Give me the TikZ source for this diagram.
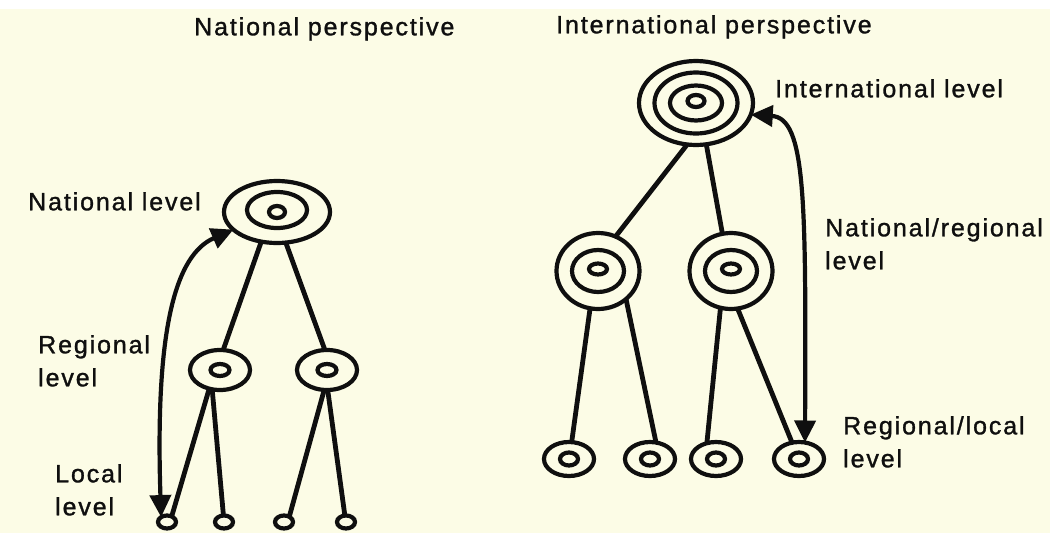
\documentclass[tikz,border=0pt]{standalone}
\usepackage{fontspec}
\setmainfont[LetterSpace=7.5,FakeBold=1.2]{Liberation Sans}
\usetikzlibrary{arrows.meta,shapes.geometric}
\definecolor{paper}{RGB}{252,252,230}
\definecolor{ink}{RGB}{15,15,15}
\begin{document}
\begin{tikzpicture}[x=1pt,y=-1pt,
  ring/.style={draw=ink,line width=4.2pt,ellipse,inner sep=0pt,outer sep=0pt},
  ringline/.style={draw=ink,line width=4.2pt},
  link/.style={draw=ink,line width=4.8pt},
  lbl/.style={font=\fontsize{25}{33}\selectfont,text=ink,inner sep=0pt,align=left,anchor=north west},
  dbl/.style={draw=ink,line width=4.2pt,{Triangle[length=22pt,width=21pt]}-{Triangle[length=22pt,width=21pt]}}
]
\useasboundingbox (0,0) rectangle (1050,533);
\fill[paper] (0,0) rectangle (1050,533);
\fill[white] (0,0) rectangle (1050,9);

% titles
\node[lbl] (t1) at (194,17) {National perspective};
\node[lbl] (t2) at (556,15) {International perspective};

% ---- left tree
\node[ring,minimum width=106,minimum height=62] (nat) at (277,212) {};
\draw[ringline] ([yshift=2pt]nat.center) ellipse [x radius=30,y radius=18];
\draw[ringline] (nat.center) ellipse [x radius=8,y radius=6];

\node[ring,minimum width=60,minimum height=40] (regL) at (220,370) {};
\draw[ringline] (regL.center) ellipse [x radius=9.5,y radius=6];
\node[ring,minimum width=60,minimum height=40] (regR) at (327,370) {};
\draw[ringline] (regR.center) ellipse [x radius=9.5,y radius=6];

\node[ring,minimum width=18,minimum height=13] (loc1) at (167,522) {};
\node[ring,minimum width=18,minimum height=13] (loc2) at (224,522) {};
\node[ring,minimum width=18,minimum height=13] (loc3) at (284,522) {};
\node[ring,minimum width=18,minimum height=13] (loc4) at (346,522) {};

\draw[link] (nat.242) -- (regL.81);
\draw[link] (nat.286) -- (regR.96);
\draw[link] (regL.240) -- (loc1.50);
\draw[link] (regL.248) -- (loc2.95);
\draw[link] (regR.262) -- (loc3.45);
\draw[link] (regR.272) -- (loc4.100);

\draw[dbl] (loc1.140) .. controls (155,330) and (175,255) .. (nat.202);

\node[lbl] (l1) at (28,192) {National level};
\node[lbl] (l2) at (38,335) {Regional\\level};
\node[lbl] (l3) at (55,464) {Local\\level};

% ---- right tree
\node[ring,minimum width=114,minimum height=84] (int) at (696,103) {};
\draw[ringline] (int.center) ellipse [x radius=41.5,y radius=30.5];
\draw[ringline] (int.center) ellipse [x radius=26,y radius=17.5];
\draw[ringline] ([yshift=2pt]int.center) ellipse [x radius=8.5,y radius=6];

\node[ring,minimum width=83,minimum height=76] (nrL) at (598,271) {};
\draw[ringline] (nrL.center) ellipse [x radius=26,y radius=21];
\draw[ringline] ([yshift=2pt]nrL.center) ellipse [x radius=9,y radius=5.5];
\node[ring,minimum width=83,minimum height=76] (nrR) at (731,271) {};
\draw[ringline] (nrR.center) ellipse [x radius=26,y radius=21];
\draw[ringline] ([yshift=2pt]nrR.center) ellipse [x radius=9,y radius=5.5];

\node[ring,minimum width=50,minimum height=34] (rl1) at (569,459) {};
\draw[ringline] (rl1.center) ellipse [x radius=9,y radius=6.5];
\node[ring,minimum width=50,minimum height=34] (rl2) at (650,459) {};
\draw[ringline] (rl2.center) ellipse [x radius=9,y radius=6.5];
\node[ring,minimum width=50,minimum height=34] (rl3) at (716,459) {};
\draw[ringline] (rl3.center) ellipse [x radius=9,y radius=6.5];
\node[ring,minimum width=50,minimum height=34] (rl4) at (799,459) {};
\draw[ringline] (rl4.center) ellipse [x radius=9,y radius=6.5];

\draw[link] (int.258) -- (nrL.63);
\draw[link] (int.284) -- (nrR.103);
\draw[link] (nrL.258) -- (rl1.81);
\draw[link] (nrL.-45) -- (rl2.70);
\draw[link] (nrR.254) -- (rl3.120);
\draw[link] (nrR.-80) -- (rl4.113);

\draw[dbl] (rl4.70) .. controls (806,200) and (806,118) .. (int.-12);

\node[lbl] (r1) at (775,79) {International level};
\node[lbl] (r2) at (825,218) {National/regional\\level};
\node[lbl] (r3) at (843,416) {Regional/local\\level};
\end{tikzpicture}
\end{document}
